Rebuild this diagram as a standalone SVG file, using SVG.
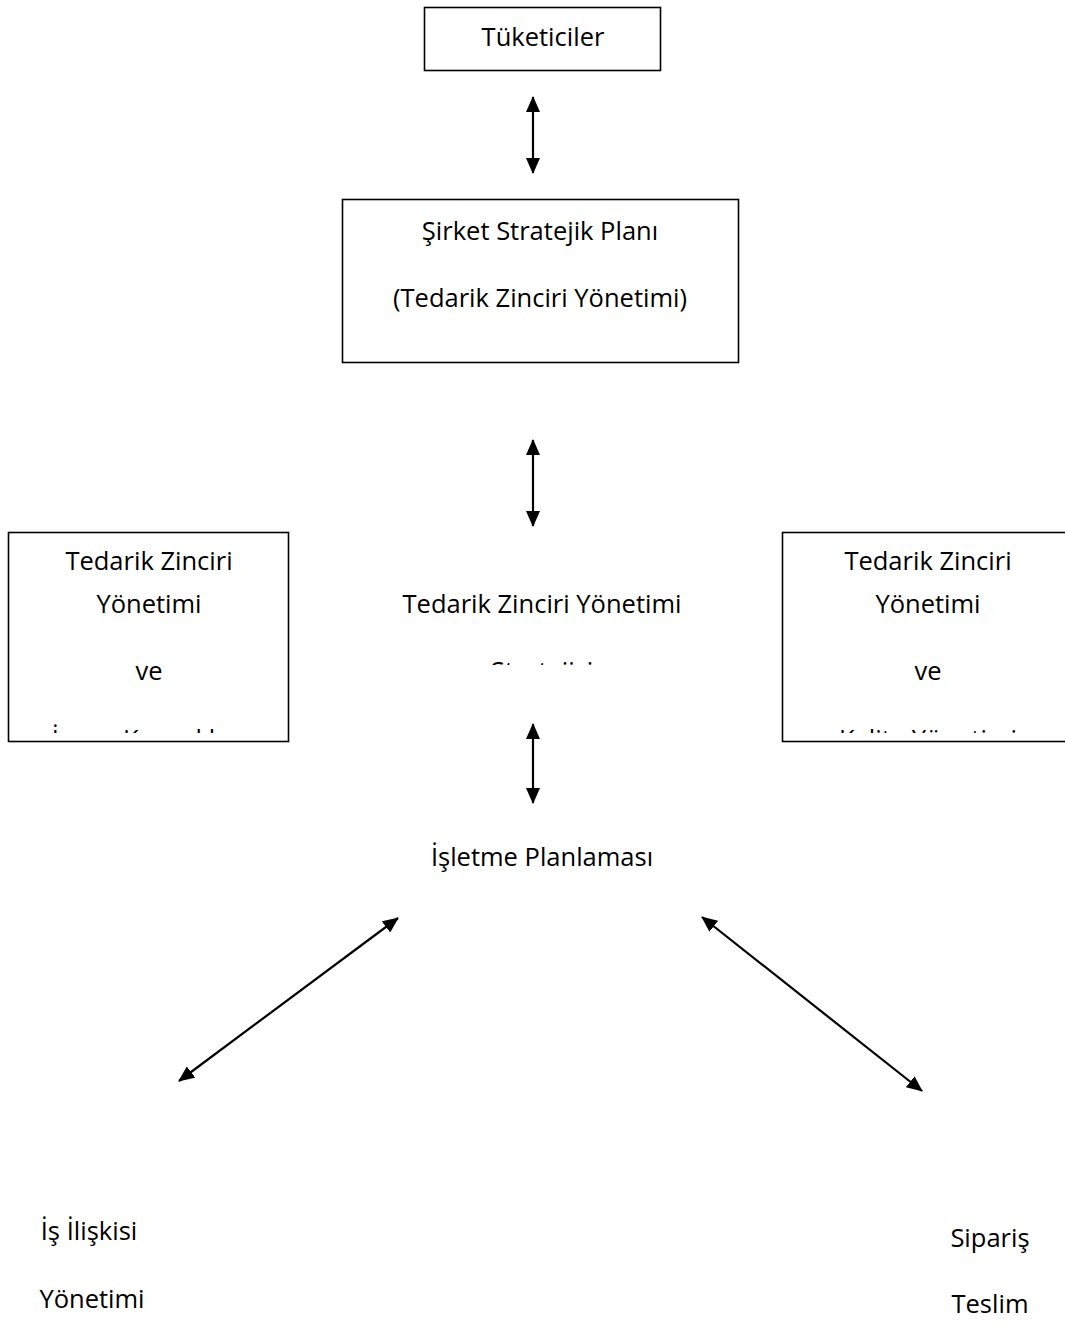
<svg xmlns="http://www.w3.org/2000/svg" width="1065" height="1339" viewBox="0 0 1065 1339">
  <style>
    .box { fill: #ffffff; stroke: #000000; stroke-width: 1.6; }
    .lbl { font-family: "Open Sans", "Noto Sans", "Liberation Sans", sans-serif; font-size: 25.5px; fill: #000000; text-anchor: middle; }
    .conn { stroke: #000000; stroke-width: 2.2; fill: none; marker-start: url(#head); marker-end: url(#head); }
  </style>
  <defs>
    <marker id="head" markerUnits="userSpaceOnUse" markerWidth="16" markerHeight="14" viewBox="0 0 16 14" refX="15" refY="7" orient="auto-start-reverse">
      <path d="M0,0 L16,7 L0,14 z" fill="#000000"/>
    </marker>
    <!-- text boxes cut their last line off at the bottom edge -->
    <clipPath id="clipLeft"><rect x="8" y="532" width="282" height="201"/></clipPath>
    <clipPath id="clipRight"><rect x="782" y="532" width="283" height="201"/></clipPath>
    <clipPath id="clipCenter"><rect x="380" y="560" width="320" height="105"/></clipPath>
  </defs>

  <rect width="1065" height="1339" fill="#ffffff"/>

  <g id="tuketiciler">
    <rect class="box" x="424.5" y="7.5" width="236" height="63"/>
    <text class="lbl" x="543" y="46">Tüketiciler</text>
  </g>

  <g id="sirket-stratejik-plani">
    <rect class="box" x="342.5" y="199.5" width="396" height="163"/>
    <text class="lbl" x="540" y="240">Şirket Stratejik Planı</text>
    <text class="lbl" x="540" y="307">(Tedarik Zinciri Yönetimi)</text>
  </g>

  <g id="tzy-insan-kaynaklari">
    <rect class="box" x="8.5" y="532.5" width="280" height="209"/>
    <g clip-path="url(#clipLeft)">
      <text class="lbl" x="149" y="570">Tedarik Zinciri</text>
      <text class="lbl" x="149" y="613">Yönetimi</text>
      <text class="lbl" x="149" y="680">ve</text>
      <text class="lbl" x="149" y="748">İnsan Kaynakları</text>
    </g>
  </g>

  <g id="tzy-stratejisi">
    <g clip-path="url(#clipCenter)">
      <text class="lbl" x="542" y="613">Tedarik Zinciri Yönetimi</text>
      <text class="lbl" x="542" y="680">Stratejisi</text>
    </g>
  </g>

  <g id="tzy-kalite-yonetimi">
    <rect class="box" x="782.5" y="532.5" width="300" height="209"/>
    <g clip-path="url(#clipRight)">
      <text class="lbl" x="928" y="570">Tedarik Zinciri</text>
      <text class="lbl" x="928" y="613">Yönetimi</text>
      <text class="lbl" x="928" y="680">ve</text>
      <text class="lbl" x="928" y="748">Kalite Yönetimi</text>
    </g>
  </g>

  <g id="isletme-planlamasi">
    <text class="lbl" x="542" y="866">İşletme Planlaması</text>
  </g>

  <g id="is-iliskisi-yonetimi">
    <text class="lbl" x="89" y="1240">İş İlişkisi</text>
    <text class="lbl" x="92" y="1308">Yönetimi</text>
  </g>

  <g id="siparis-teslim">
    <text class="lbl" x="990" y="1247">Sipariş</text>
    <text class="lbl" x="990" y="1313">Teslim</text>
    <text class="lbl" x="990" y="1357">Süreci</text>
  </g>

  <g id="connectors">
    <line class="conn" x1="533" y1="97" x2="533" y2="173"/>
    <line class="conn" x1="533" y1="440" x2="533" y2="526"/>
    <line class="conn" x1="533" y1="724" x2="533" y2="803"/>
    <line class="conn" x1="398" y1="918" x2="179" y2="1081"/>
    <line class="conn" x1="702" y1="917" x2="922" y2="1091"/>
  </g>
</svg>
